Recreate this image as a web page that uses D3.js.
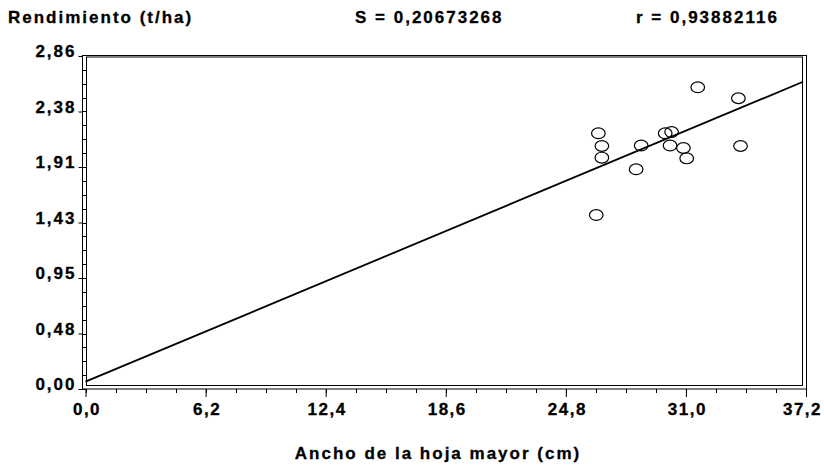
<!DOCTYPE html>
<html>
<head>
<meta charset="utf-8">
<script src="https://cdn.jsdelivr.net/npm/d3@7"></script>
<style>
  body { margin: 0; background: #fff; }
  svg { display: block; }
  text { font-family: "Liberation Sans", Arial, sans-serif; font-weight: bold; fill: #000; stroke: #000; stroke-width: 0.3px; }
</style>
</head>
<body>
<div id="chart"></div>
<script>
// ancho de la hoja mayor (cm) vs rendimiento (t/ha)
let anchoHoja = [31.61, 33.71, 26.48, 26.66, 26.66, 28.69, 29.93, 30.26, 30.18, 30.87, 31.04, 33.82, 28.43, 26.37];
let rendimiento = [2.591, 2.497, 2.196, 2.087, 1.987, 2.091, 2.196, 2.207, 2.091, 2.070, 1.981, 2.087, 1.887, 1.494];

// recta ajustada (extremos)
let rectaX = [0, 37.05];
let rectaY = [0.063, 2.639];

let xTicks = [0, 6.2, 12.4, 18.6, 24.8, 31.0, 37.2];
let xTickLabels = ["0,0", "6,2", "12,4", "18,6", "24,8", "31,0", "37,2"];
let yTicks = [0, 0.4767, 0.9533, 1.43, 1.9067, 2.3833, 2.86];
let yTickLabels = ["0,00", "0,48", "0,95", "1,43", "1,91", "2,38", "2,86"];

let yTitle = "Rendimiento (t/ha)";
let sText = "S = 0,20673268";
let rText = "r = 0,93882116";
let xTitle = "Ancho de la hoja mayor (cm)";

let width = 824;
let height = 466;
let fontSize = "17px";
let spacing = "2px";

let x = d3.scaleLinear()
    .domain([0, 37.2])
    .range([85.5, 806]);

let y = d3.scaleLinear()
    .domain([0, 2.86])
    .range([389, 56]);

let svg = d3.select("#chart").append("svg")
    .attr("width", width)
    .attr("height", height);

// marco doble
svg.append("rect")
    .attr("x", 82.5).attr("y", 55.5)
    .attr("width", 806 - 82).attr("height", 389 - 55.5)
    .attr("fill", "none").attr("stroke", "#000");
svg.append("rect")
    .attr("x", 86.5).attr("y", 57)
    .attr("width", 802 - 86).attr("height", 385.5 - 57)
    .attr("fill", "none").attr("stroke", "#000");

// marcas menores
let yMinor = d3.range(0, 2.86, 2.86 / 24);
svg.append("g").selectAll("line")
    .data(yMinor)
    .enter().append("line")
    .attr("x1", 82.5).attr("x2", 86.5)
    .attr("y1", d => Math.round(y(d)) + 0.5)
    .attr("y2", d => Math.round(y(d)) + 0.5)
    .attr("stroke", "#000");

let xMinor = d3.range(0, 37.2, 1.55);
svg.append("g").selectAll("line")
    .data(xMinor)
    .enter().append("line")
    .attr("x1", d => Math.round(x(d)) + 0.5)
    .attr("x2", d => Math.round(x(d)) + 0.5)
    .attr("y1", 389).attr("y2", 393)
    .attr("stroke", "#000");

let xAxis = d3.axisBottom(x)
    .tickValues(xTicks)
    .tickSize(8)
    .tickPadding(6)
    .tickFormat((d, i) => xTickLabels[i]);

let yAxis = d3.axisLeft(y)
    .tickValues(yTicks)
    .tickSize(4)
    .tickPadding(2)
    .tickFormat((d, i) => yTickLabels[i]);

let xAxisGroup = svg.append("g")
    .attr("transform", "translate(0,389)")
    .call(xAxis);

let yAxisGroup = svg.append("g")
    .attr("transform", "translate(82.5,0)")
    .call(yAxis);

[xAxisGroup, yAxisGroup].forEach(g => {
    g.select(".domain").remove();
    g.attr("font-family", null).attr("font-size", null);
    g.selectAll(".tick line").attr("stroke", "#000");
    g.selectAll(".tick text")
        .style("font-size", fontSize)
        .style("letter-spacing", spacing);
});
yAxisGroup.selectAll(".tick text").attr("dy", "0.05em");
xAxisGroup.selectAll(".tick text")
    .style("letter-spacing", "1.5px")
    .attr("dx", (d, i) => i === xTicks.length - 1 ? "-4px" : "1px");

// recta de regresion
svg.append("line")
    .attr("x1", x(rectaX[0])).attr("y1", y(rectaY[0]))
    .attr("x2", x(rectaX[1])).attr("y2", y(rectaY[1]))
    .attr("stroke", "#000")
    .attr("stroke-width", 1.8);

// puntos
svg.append("g").selectAll("ellipse")
    .data(anchoHoja)
    .enter().append("ellipse")
    .attr("cx", d => x(d))
    .attr("cy", (d, i) => y(rendimiento[i]))
    .attr("rx", 6.8)
    .attr("ry", 5.4)
    .attr("fill", "none")
    .attr("stroke", "#000")
    .attr("stroke-width", 1.2);

// textos
let titles = [
    {t: yTitle, x: 8, y: 23, anchor: "start"},
    {t: sText, x: 355, y: 23, anchor: "start"},
    {t: rText, x: 636, y: 23, anchor: "start"},
    {t: xTitle, x: 438, y: 459, anchor: "middle"}
];
svg.append("g").selectAll("text")
    .data(titles)
    .enter().append("text")
    .attr("x", d => d.x)
    .attr("y", d => d.y)
    .attr("text-anchor", d => d.anchor)
    .style("font-size", fontSize)
    .style("letter-spacing", spacing)
    .text(d => d.t);
</script>
</body>
</html>
